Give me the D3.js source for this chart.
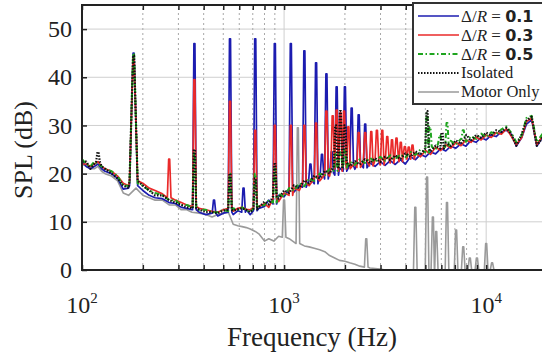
<!DOCTYPE html>
<html>
<head>
<meta charset="utf-8">
<script src="https://cdn.jsdelivr.net/npm/d3@7"></script>
<style>
  body { margin: 0; background: #fff; }
  svg { display: block; font-family: "Liberation Serif", "DejaVu Serif", serif; }
</style>
</head>
<body>
<svg id="chart" width="542" height="357"></svg>
<script>
// shared frequency grid (Hz) for the broadband part of every curve
const freqsLow = [100, 105, 110, 115, 120, 125, 130, 140, 150, 160, 170, 185, 200, 215, 230, 250, 270, 290, 310, 330,
  350, 380, 410, 440, 470, 500, 530, 560, 590, 620, 650, 680, 720, 750];
const freqsHigh = [800, 840, 890, 940, 1000, 1060, 1120, 1190, 1260, 1330, 1410, 1500, 1590, 1680, 1780, 1880, 2000, 2110, 2240, 2370,
  2510, 2660, 2820, 2990, 3160, 3350, 3550, 3760, 3980, 4220, 4470, 4730, 5010, 5310, 5620, 5960, 6310, 6680, 7080, 7500,
  7940, 8410, 8910, 9440, 10000, 10600, 11200, 11900, 12600, 13300, 14100, 15000, 15800, 16800, 17800, 18800, 20000];
const freqs = freqsLow.concat(freqsHigh);

// broadband SPL (dB), one value per grid frequency
const blueSPL = [22.5, 21.5, 21, 21.5, 22, 21, 20.5, 20, 19, 16.8, 17, 17.5, 16.5, 15.5, 15, 14.8, 14, 13.8, 13, 12.8,
  12.5, 12, 11.5, 11.8, 11.2, 11.8, 12, 11.5, 12.3, 12, 12.5, 11.5, 12.3, 12.8,
  13.2, 14.5, 13.7, 15.5, 15.2, 16.7, 16.2, 17.5, 17.2, 18.5, 17.9, 19.5, 18.9, 20.2, 19.7, 21.2, 20.5, 21.7, 20.9, 22,
  21.2, 22.2, 21.5, 22.5, 21.7, 22.7, 21.9, 22.9, 22, 23.5, 22.9, 24, 23.5, 24.5, 24.1, 25.2, 24.7, 25.7, 25.3, 26.2,
  25.7, 26.9, 26.5, 27.5, 27, 28, 27.7, 28.7, 29, 28.2, 25.7, 27.5, 30.2, 31.2, 25.7, 27.2, 29];
const redSPL = [22, 22, 21.5, 22, 22.5, 21.5, 21, 20.5, 19.5, 18, 17.5, 18.5, 18, 17, 16.5, 15.8, 15, 14.5, 14, 13.5,
  13.2, 12.8, 12.5, 12.2, 12, 12.5, 12.8, 12.2, 12.8, 13, 12.6, 12.5, 13, 13.2,
  13.8, 13, 14.8, 14.2, 16, 15.5, 17, 16.5, 18, 17.5, 19, 18.5, 19.8, 19.5, 21, 20.5, 21.8, 21, 22.2, 21.3,
  22.5, 21.6, 22.8, 21.8, 23, 22.2, 23.4, 22.5, 23.6, 23, 24.2, 23.5, 24.8, 24, 25.5, 24.8, 26, 25.3, 26.5, 25.8,
  27, 26.5, 27.6, 27, 28, 27.5, 28.5, 28.2, 29.3, 27.8, 26, 27.5, 30.8, 31.5, 26, 27.5, 29];
const greenSPL = [23, 22, 21.5, 22.5, 22, 21.5, 21, 20.5, 19.5, 17.5, 17.5, 18, 17.5, 16.5, 16, 15.5, 14.5, 14.5, 13.5, 13.5,
  13, 12.5, 12.5, 12, 12, 12.5, 12.2, 12.8, 12.5, 13, 12.4, 12, 12.8, 13.2,
  13.5, 14.5, 14, 15.8, 15.2, 17, 16.5, 18, 17.4, 19, 18.5, 20, 19.6, 21, 20.6, 22, 21.3, 22.5, 21.8, 23,
  22.2, 23.3, 22.4, 23.5, 22.7, 23.8, 23, 24, 23.4, 24.5, 23.9, 25, 24.4, 25.6, 25, 26.2, 25.5, 26.8, 26, 27.2,
  26.6, 27.8, 27.2, 28.3, 27.6, 28.6, 28.2, 29.2, 29.8, 28.5, 26.5, 28, 31.5, 32, 26.5, 28, 29.8];
const isolatedSPL = [22.5, 22.5, 21, 22, 22.5, 21.5, 21, 20, 19, 17.5, 17, 18.5, 17.5, 16.5, 15.5, 15.5, 14.5, 14, 13.5, 13,
  12.8, 12.5, 12, 12, 11.8, 12.3, 12.5, 12.3, 12.6, 12.8, 12.5, 12, 12.6, 13,
  14.2, 13.6, 15.3, 14.8, 16.5, 16, 17.6, 17, 18.6, 18, 19.6, 19, 20.6, 20, 21.6, 21, 22.3, 21.5, 22.6, 21.9,
  23, 22.2, 23.2, 22.4, 23.5, 22.8, 23.8, 23, 24.2, 23.5, 24.6, 24, 25.2, 24.6, 25.8, 25.2, 26.4, 25.7, 26.9, 26.2,
  27.4, 26.8, 28, 27.4, 28.5, 27.9, 29, 28.6, 29.5, 28.2, 25.8, 28.2, 31, 31.8, 25.8, 27.2, 29.5];
const motorSPL = [22, 21.5, 21, 21, 21.5, 20.5, 20, 19.5, 18.5, 16, 15.5, 17, 15.5, 15, 14.5, 14.5, 13.5, 13.5, 12.5, 12.5,
  12, 11.8, 11.5, 11, 11.5, 11.8, 12, 9.5, 9.2, 9, 8.8, 8.5, 8, 7.5,
  6, 6.5, 6, 7, 6.8, 6.5, 5.8, 5.5, 5, 4.8, 4.5, 4.2, 3.8, 3, 2.5, 2, 1.8, 1.5, 1.2, 0.8,
  0.6, 0.4, 0.3, 0.2, 0, 0, 0, 0, 0, 0, 0, 0, 0, 0, 0, 0, 0, 0, 0, 0,
  0, 0, 0, 0, 0, 0, -2, -2, -2, -2, -2, -2, -2, -2, -2, -2, -2];

// tonal peaks: [frequency (Hz), peak SPL (dB)]
const bluePeaks = [[180, 45], [360, 47], [450, 14.5], [540, 48], [630, 17], [720, 48], [900, 47], [1080, 47],
  [1260, 45.5], [1350, 22], [1440, 43], [1540, 24], [1620, 40.7], [1720, 24.5], [1820, 38], [2000, 38],
  [2160, 33.6], [2340, 32.2], [2520, 30.3]];
const redPeaks = [[180, 44], [270, 23], [360, 39.5], [540, 35], [720, 29], [900, 30], [1080, 30], [1260, 30],
  [1440, 30.5], [1620, 33], [1740, 32], [1820, 33.2], [1900, 32.6], [1980, 33], [2080, 29.7], [2340, 28.5],
  [2520, 28.5], [2700, 28.7], [2880, 29], [3060, 29], [3240, 27.7], [3420, 27], [3600, 27.4], [3780, 26.5],
  [3960, 25.6], [4140, 25.5], [4320, 25.9]];
const greenPeaks = [[180, 45], [360, 24.5], [540, 20], [720, 20], [900, 21], [1800, 24], [1900, 24.5], [2000, 25],
  [5100, 32.5], [5270, 29.7], [5900, 28], [6400, 30.5], [7700, 29]];
const isolatedPeaks = [[120, 24.5], [180, 44.5], [360, 25], [540, 20], [720, 19], [900, 22], [1800, 30], [1900, 33],
  [2000, 30], [5100, 33], [6050, 28.5], [8000, 28]];
const motorPeaks = [[1000, 14.5], [1170, 29.5], [2550, 6.5], [4460, 13], [5100, 19.3], [5450, 11], [5660, 8],
  [6400, 14], [7100, 8.3], [7700, 4.8], [8300, 2.5], [9000, 2.5], [10000, 5.5], [10700, 1.5]];

const xTicksMajor = [100, 1000, 10000];
const xTicksMinor = [200, 300, 400, 500, 600, 700, 800, 900, 2000, 3000, 4000, 5000, 6000, 7000, 8000, 9000];
const yTicks = [0, 10, 20, 30, 40, 50];
const legendLabels = ["0.1", "0.3", "0.5", "Isolated", "Motor Only"];

const width = 542, height = 357;
const margin = {top: 5, right: -5, bottom: 87, left: 82};

const svg = d3.select('#chart');

const x = d3.scaleLog()
  .domain([100, 20000])
  .range([margin.left, width - margin.right]);

const y = d3.scaleLinear()
  .domain([0, 55])
  .range([height - margin.bottom, margin.top]);

const x0 = margin.left, x1 = width - margin.right;
const y0 = height - margin.bottom, y1 = margin.top;

svg.append('defs').append('clipPath').attr('id', 'clip')
  .append('rect').attr('x', x0).attr('y', y1).attr('width', x1 - x0).attr('height', y0 - y1);

// grid
const grid = svg.append('g');
grid.selectAll('.hg').data(yTicks.slice(1))
  .join('line')
  .attr('x1', x0).attr('x2', x1)
  .attr('y1', d => y(d)).attr('y2', d => y(d))
  .attr('stroke', '#cfcfcf').attr('stroke-width', 1);
grid.selectAll('.vmin').data(xTicksMinor)
  .join('line')
  .attr('x1', d => x(d)).attr('x2', d => x(d))
  .attr('y1', y0).attr('y2', y1)
  .attr('stroke', '#a8a8a8').attr('stroke-width', 1).attr('stroke-dasharray', '2,3');
grid.selectAll('.vmaj').data(xTicksMajor.slice(1))
  .join('line')
  .attr('x1', d => x(d)).attr('x2', d => x(d))
  .attr('y1', y0).attr('y2', y1)
  .attr('stroke', '#cfcfcf').attr('stroke-width', 1);

// merge the broadband grid with narrow spikes at the tonal peaks
const footHalf = 0.009, topHalf = 0.0025, wideFoot = 0.02; // decades
function curve(base, peaks) {
  const halfOf = f => (f === 180 ? wideFoot : footHalf);
  const pts = freqs.map((f, i) => [f, base[i]])
    .filter(p => !peaks.some(pk => Math.abs(Math.log10(p[0] / pk[0])) < halfOf(pk[0])));
  peaks.forEach(([f, top]) => {
    const near = d3.least(freqs, g => Math.abs(Math.log10(g / f)));
    const foot = base[freqs.indexOf(near)];
    const h = halfOf(f);
    pts.push([f * Math.pow(10, -h), foot], [f * Math.pow(10, -topHalf), top],
      [f * Math.pow(10, topHalf), top], [f * Math.pow(10, h), foot]);
  });
  return pts.sort((a, b) => a[0] - b[0]);
}

const line = d3.line().x(d => x(d[0])).y(d => y(d[1]));

const series = [
  {base: motorSPL, peaks: motorPeaks, color: '#9a9a9a', width: 1.6, dash: null},
  {base: blueSPL, peaks: bluePeaks, color: '#1c1cb0', width: 1.7, dash: null},
  {base: redSPL, peaks: redPeaks, color: '#ea2a2a', width: 1.7, dash: null},
  {base: greenSPL, peaks: greenPeaks, color: '#1fa51f', width: 2, dash: '5,2.5,1.5,2.5'},
  {base: isolatedSPL, peaks: isolatedPeaks, color: '#111', width: 2.2, dash: '1.5,1.5'}
];

const plot = svg.append('g').attr('clip-path', 'url(#clip)');
plot.selectAll('path').data(series)
  .join('path')
  .attr('d', s => line(curve(s.base, s.peaks)))
  .attr('fill', 'none')
  .attr('stroke', s => s.color)
  .attr('stroke-width', s => s.width)
  .attr('stroke-linejoin', 'round')
  .attr('stroke-dasharray', s => s.dash);

// axes (ticks inside)
const allX = xTicksMajor.concat(xTicksMinor);
svg.append('g')
  .attr('transform', `translate(0,${y0})`)
  .call(d3.axisBottom(x).tickValues(allX).tickSize(-5).tickFormat(''))
  .call(g => g.select('.domain').remove())
  .call(g => g.selectAll('line').attr('stroke', '#222').attr('stroke-width', 1.5));
svg.append('g')
  .attr('transform', `translate(0,${y1})`)
  .call(d3.axisTop(x).tickValues(allX).tickSize(-5).tickFormat(''))
  .call(g => g.select('.domain').remove())
  .call(g => g.selectAll('line').attr('stroke', '#222').attr('stroke-width', 1.5));
svg.append('g')
  .attr('transform', `translate(${x0},0)`)
  .call(d3.axisLeft(y).tickValues(yTicks).tickSize(-5).tickPadding(10))
  .call(g => g.select('.domain').remove())
  .call(g => g.selectAll('line').attr('stroke', '#222').attr('stroke-width', 1.5))
  .call(g => g.selectAll('text')
    .attr('font-family', '"Liberation Serif", serif')
    .attr('font-size', 24).attr('fill', '#222'));

svg.append('rect')
  .attr('x', x0).attr('y', y1).attr('width', x1 - x0).attr('height', y0 - y1)
  .attr('fill', 'none').attr('stroke', '#222').attr('stroke-width', 2);

// decade labels 10^n
const xl = svg.append('g').selectAll('text').data(xTicksMajor)
  .join('text')
  .attr('x', d => x(d)).attr('y', 313)
  .attr('text-anchor', 'middle')
  .attr('font-size', 24).attr('fill', '#222');
xl.append('tspan').text('10');
xl.append('tspan').attr('dy', -10).attr('font-size', 15).text(d => Math.round(Math.log10(d)));

svg.append('text')
  .attr('x', 312).attr('y', 346)
  .attr('text-anchor', 'middle')
  .attr('font-size', 27).attr('fill', '#222')
  .text('Frequency (Hz)');

svg.append('text')
  .attr('transform', 'translate(32,150) rotate(-90)')
  .attr('text-anchor', 'middle')
  .attr('font-size', 26).attr('fill', '#222')
  .text('SPL (dB)');

// legend
const lg = svg.append('g');
lg.append('rect')
  .attr('x', 413).attr('y', 3).attr('width', 140).attr('height', 101)
  .attr('fill', '#fff').attr('stroke', '#333').attr('stroke-width', 2);

const rows = lg.selectAll('.row').data(series.slice(1).concat(series.slice(0, 1)))
  .join('g')
  .attr('transform', (d, i) => `translate(0,${16 + i * 19})`);
rows.append('line')
  .attr('x1', 418).attr('x2', 459)
  .attr('y1', 0).attr('y2', 0)
  .attr('stroke', s => s.color)
  .attr('stroke-width', s => Math.min(s.width, 1.8))
  .attr('stroke-dasharray', s => s.dash);

rows.filter((d, i) => i < 3).each(function(d, i) {
  const t = d3.select(this).append('text')
    .attr('x', 461).attr('y', 6)
    .attr('font-size', 17).attr('fill', '#222');
  t.append('tspan').text('\u0394/');
  t.append('tspan').attr('font-style', 'italic').text('R');
  t.append('tspan').text(' = ');
  t.append('tspan')
    .attr('font-family', '"DejaVu Sans", sans-serif')
    .attr('font-weight', 'bold').attr('font-size', 16)
    .text(legendLabels[i]);
});
rows.filter((d, i) => i >= 3).append('text')
  .attr('x', 461).attr('y', 5)
  .attr('font-size', 16.5).attr('fill', '#222')
  .text((d, i) => legendLabels[i + 3]);
</script>
</body>
</html>
